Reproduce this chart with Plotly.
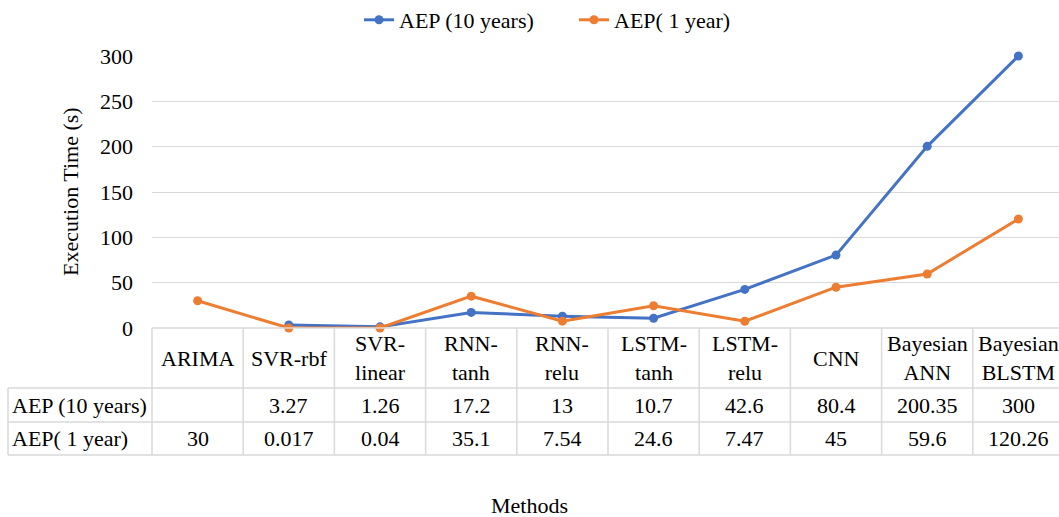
import plotly.graph_objects as go

categories = ["ARIMA", "SVR-rbf", "SVR-linear", "RNN-tanh", "RNN-relu",
              "LSTM-tanh", "LSTM-relu", "CNN", "Bayesian ANN", "Bayesian BLSTM"]
header_labels = ["ARIMA", "SVR-rbf", "SVR-<br>linear", "RNN-<br>tanh", "RNN-<br>relu",
                 "LSTM-<br>tanh", "LSTM-<br>relu", "CNN", "Bayesian<br>ANN", "Bayesian<br>BLSTM"]
aep10 = [None, 3.27, 1.26, 17.2, 13, 10.7, 42.6, 80.4, 200.35, 300]
aep1 = [30, 0.017, 0.04, 35.1, 7.54, 24.6, 7.47, 45, 59.6, 120.26]
aep10_text = ["", "3.27", "1.26", "17.2", "13", "10.7", "42.6", "80.4", "200.35", "300"]
aep1_text = ["30", "0.017", "0.04", "35.1", "7.54", "24.6", "7.47", "45", "59.6", "120.26"]
series_names = ["AEP (10 years)", "AEP( 1 year)"]
yticks = [0, 50, 100, 150, 200, 250, 300]

# figure slightly wider than the window: the reference's table is cut at the right edge
W, H = 1065, 517
L, R, T, B = 152, 1, 56, 189
PW = W - L - R
PH = H - T - B
FONT = "Liberation Serif, Times New Roman, serif"
BLUE = "#4472C4"
ORANGE = "#ED7D31"
GRID = "#d9d9d9"


def px_x(p):
    return (p - L) / PW


def px_y(p):
    return (H - B - p) / PH


n = len(categories)

fig = go.Figure()
fig.add_trace(go.Scatter(x=categories, y=aep10, name=series_names[0], mode="lines+markers",
                         line=dict(color=BLUE, width=3), marker=dict(size=9, color=BLUE),
                         cliponaxis=False))
fig.add_trace(go.Scatter(x=categories, y=aep1, name=series_names[1], mode="lines+markers",
                         line=dict(color=ORANGE, width=3), marker=dict(size=9, color=ORANGE),
                         cliponaxis=False))

shapes = []
y_head_top, y_head_bot, y_r1_bot, y_r2_bot = 328, 388, 422, 455
shapes.append(dict(type="line", xref="paper", yref="paper", x0=0, x1=1,
                   y0=px_y(y_head_top), y1=px_y(y_head_top), line=dict(color=GRID, width=1.5)))
for yy in (y_head_bot, y_r1_bot, y_r2_bot):
    shapes.append(dict(type="line", xref="paper", yref="paper", x0=px_x(8), x1=1,
                       y0=px_y(yy), y1=px_y(yy), line=dict(color=GRID, width=1.5)))
for i in range(n + 1):
    xp = i / n
    shapes.append(dict(type="line", xref="paper", yref="paper", x0=xp, x1=xp,
                       y0=px_y(y_head_top), y1=px_y(y_r2_bot), line=dict(color=GRID, width=1.5)))
shapes.append(dict(type="line", xref="paper", yref="paper", x0=px_x(8), x1=px_x(8),
                   y0=px_y(y_head_bot), y1=px_y(y_r2_bot), line=dict(color=GRID, width=1.5)))

annotations = []
fs = 22
tfont = dict(family=FONT, size=fs, color="black")
for i, lab in enumerate(header_labels):
    annotations.append(dict(x=i, xref="x", y=px_y((y_head_top + y_head_bot) / 2), yref="paper",
                            text=lab, showarrow=False, font=tfont,
                            xanchor="center", yanchor="middle"))
    annotations.append(dict(x=i, xref="x", y=px_y((y_head_bot + y_r1_bot) / 2), yref="paper",
                            text=aep10_text[i], showarrow=False, font=tfont,
                            xanchor="center", yanchor="middle"))
    annotations.append(dict(x=i, xref="x", y=px_y((y_r1_bot + y_r2_bot) / 2), yref="paper",
                            text=aep1_text[i], showarrow=False, font=tfont,
                            xanchor="center", yanchor="middle"))
annotations.append(dict(x=px_x(10), xref="paper", y=px_y((y_head_bot + y_r1_bot) / 2), yref="paper",
                        text=series_names[0], showarrow=False, font=tfont,
                        xanchor="left", yanchor="middle"))
annotations.append(dict(x=px_x(10), xref="paper", y=px_y((y_r1_bot + y_r2_bot) / 2), yref="paper",
                        text=series_names[1], showarrow=False, font=tfont,
                        xanchor="left", yanchor="middle"))
annotations.append(dict(x=px_x(70), xref="paper", y=0.5, yref="paper", text="Execution Time (s)",
                        textangle=-90, showarrow=False, font=tfont,
                        xanchor="center", yanchor="middle"))
annotations.append(dict(x=px_x(529), xref="paper", y=px_y(505), yref="paper", text="Methods",
                        showarrow=False, font=tfont,
                        xanchor="center", yanchor="middle"))

fig.update_layout(
    width=W, height=H,
    margin=dict(l=L, r=R, t=T, b=B, autoexpand=False),
    paper_bgcolor="white", plot_bgcolor="white",
    font=tfont,
    showlegend=True,
    legend=dict(orientation="h", x=px_x(574), xanchor="center", y=px_y(20), yanchor="middle",
                font=tfont, itemwidth=30, entrywidth=170,
                bgcolor="rgba(0,0,0,0)"),
    xaxis=dict(type="category", categoryorder="array", categoryarray=categories,
               range=[-0.5, n - 0.5], showticklabels=False, showgrid=False,
               zeroline=False, showline=False, ticks=""),
    yaxis=dict(range=[0, 300], tickvals=yticks, showgrid=True, gridcolor=GRID, gridwidth=1,
               zeroline=False, showline=False, ticks="", ticklabelstandoff=18,
               tickfont=tfont),
    shapes=shapes,
    annotations=annotations,
)

fig.write_html("out.html", config={"displayModeBar": False},
               post_script="document.body.style.margin='0px';document.body.style.overflow='hidden';")
